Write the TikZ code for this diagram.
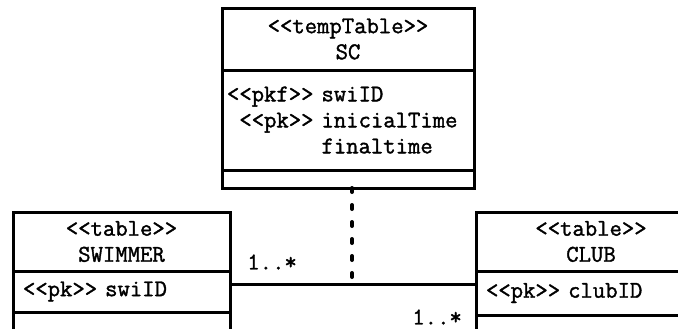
\documentclass[tikz,border=0pt]{standalone}
\usepackage{fontspec}
\setmonofont{Latin Modern Mono}[FakeBold=1.5]
\usetikzlibrary{positioning}

\begin{document}
\begin{tikzpicture}[x=0.5pt, y=-0.5pt,
	every node/.style={font=\ttfamily\fontsize{12}{13}\selectfont},
	part/.style={draw, line width=1.5pt, outer sep=0pt, inner sep=0pt},
	head/.style={part, align=center},
	attrs/.style={part, align=left},
	mult/.style={inner sep=0pt},
	assocline/.style={line width=1.5pt},
	dotline/.style={line width=2pt, line cap=round, dash pattern=on 2pt off 6.5pt}]
	\useasboundingbox (0,0) rectangle (678,328);
	\clip (0,0) rectangle (678,328);

	% SC
	\node[head, minimum width=126pt, minimum height=31pt, anchor=north west] (schead) at (222,8) {<<tempTable>>\\SC};
	\node[attrs, minimum width=126pt, minimum height=50pt, text width=121pt, inner xsep=2.5pt, below=0pt of schead] (scattr)
		{<<pkf>> swiID\\\hphantom{<}<<pk>> inicialTime\\\hphantom{<<pkf>>}\ finaltime};
	\node[part, minimum width=126pt, minimum height=9pt, below=0pt of scattr] (scops) {};

	% SWIMMER
	\node[head, minimum width=108.5pt, minimum height=29.5pt, anchor=north west] (swihead) at (13,212) {<<table>>\\SWIMMER};
	\node[attrs, minimum width=108.5pt, minimum height=20.5pt, text width=98.5pt, inner xsep=5pt, below=0pt of swihead] (swiattr) {<<pk>> swiID};
	\node[part, minimum width=108.5pt, minimum height=12pt, below=0pt of swiattr] (swiops) {};

	% CLUB
	\node[head, minimum width=115pt, minimum height=29.5pt, anchor=north west] (clubhead) at (476,212) {<<table>>\\CLUB};
	\node[attrs, minimum width=115pt, minimum height=22pt, text width=105pt, inner xsep=5pt, below=0pt of clubhead] (clubattr) {<<pk>> clubID};
	\node[part, minimum width=115pt, minimum height=12pt, below=0pt of clubattr] (clubops) {};

	% association
	\coordinate (assoc) at (352,284);
	\draw[assocline] (swiattr.east |- assoc) -- (clubattr.west |- assoc);
	\draw[dotline] (scops.south -| assoc) -- (assoc);

	\node[mult, anchor=west] (multswi) at (247,262) {1..*};
	\node[mult, anchor=west] (multclub) at (412,317) {1..*};
\end{tikzpicture}
\end{document}
